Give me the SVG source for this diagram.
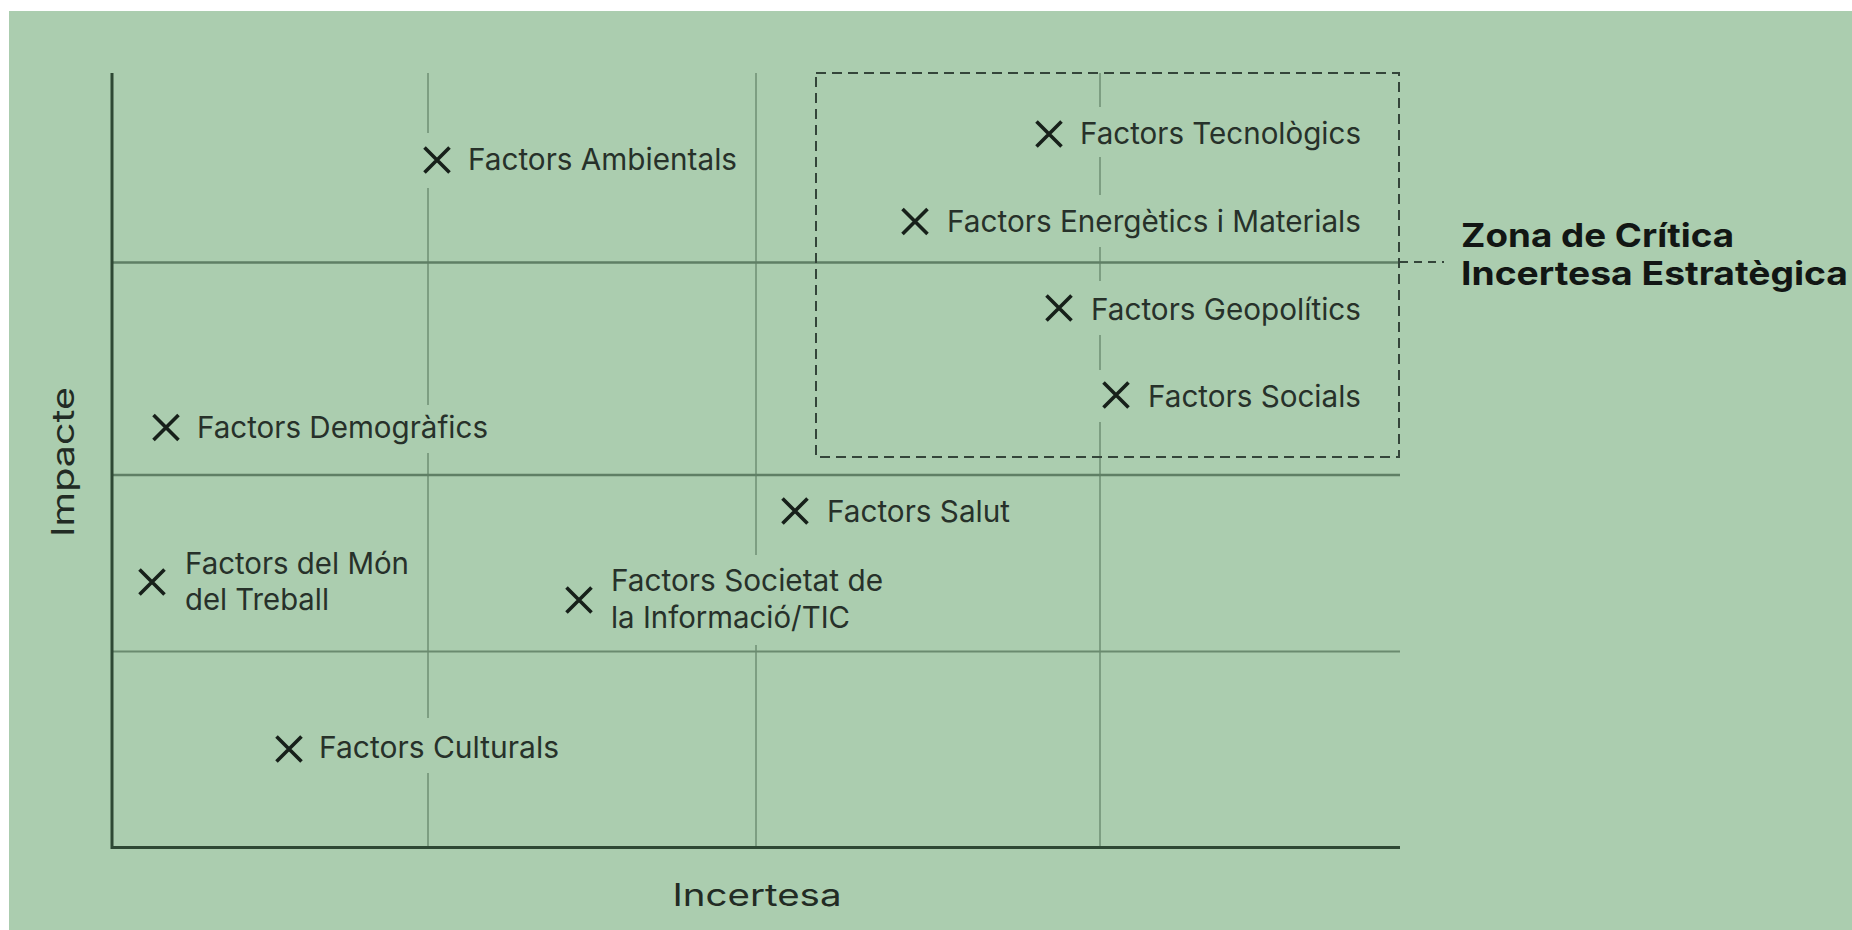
<svg xmlns="http://www.w3.org/2000/svg" xmlns:xlink="http://www.w3.org/1999/xlink" width="1852" height="930" viewBox="0 0 1852 930">
<style>
.page{fill:#ffffff}
.bg{fill:#abcdaf}
.ko{fill:#abcdaf}
.axis{stroke:#2e4834;stroke-width:3;fill:none}
.gh{stroke:#5f7f65;stroke-width:2.6;fill:none}
.gh2{stroke:#6a8a6f;stroke-width:2;fill:none}
.gv{stroke:#6f8f74;stroke-width:1.5;fill:none}
.zone{stroke:#34453a;stroke-width:2;stroke-dasharray:10 6;fill:none}
.conn{stroke:#34453a;stroke-width:2;stroke-dasharray:8 6;fill:none}
.mark{stroke:#17201a;stroke-width:3.6;fill:none}
.lbl{font-family:Inter,"Liberation Sans",sans-serif;font-size:30px;fill:#27312a}
.axl{font-family:Inter,"Liberation Sans",sans-serif;font-size:31px;fill:#222b24}
.zt{font-family:Inter,"Liberation Sans",sans-serif;font-size:33px;font-weight:700;fill:#121614}
</style>
<defs>
<path id="xm" class="mark" d="M-12.5,-12.5L12.5,12.5M12.5,-12.5L-12.5,12.5"/>
</defs>
<rect class="page" x="0" y="0" width="1852" height="930"/>
<rect class="bg" x="9" y="11" width="1843" height="919"/>

<g id="grid">
<path class="gv" d="M428,73V847M756,73V847M1100,73V847"/>
<path class="gh" d="M112,262.5H1400M112,475H1400"/>
<path class="gh2" d="M112,651.5H1400"/>
<path class="axis" d="M112,73V847.5H1400"/>
</g>

<g id="connectors">
<path class="conn" d="M1400,262H1444"/>
</g>

<g id="zona-critica">
<rect class="zone" x="816" y="73" width="583" height="384"/>
<text class="zt" x="1461" y="247" textLength="273" lengthAdjust="spacingAndGlyphs">Zona de Crítica</text>
<text class="zt" x="1461" y="285" textLength="387" lengthAdjust="spacingAndGlyphs">Incertesa Estratègica</text>
</g>

<g id="axis-impacte">
<text class="axl" transform="translate(74,462) rotate(-90)" text-anchor="middle" textLength="150" lengthAdjust="spacingAndGlyphs">Impacte</text>
</g>
<g id="axis-incertesa">
<text class="axl" x="757" y="906" text-anchor="middle" textLength="169" lengthAdjust="spacingAndGlyphs">Incertesa</text>
</g>

<g id="factors-ambientals">
<rect class="ko" x="418" y="133" width="330" height="55"/>
<use xlink:href="#xm" x="437" y="160"/>
<text class="lbl" x="468" y="170" textLength="269" lengthAdjust="spacingAndGlyphs">Factors Ambientals</text>
</g>

<g id="factors-tecnologics">
<rect class="ko" x="1027" y="107" width="345" height="50"/>
<use xlink:href="#xm" x="1049" y="134"/>
<text class="lbl" x="1080" y="144" textLength="281" lengthAdjust="spacingAndGlyphs">Factors Tecnològics</text>
</g>

<g id="factors-energetics">
<rect class="ko" x="893" y="195" width="478" height="52"/>
<use xlink:href="#xm" x="915" y="221.5"/>
<text class="lbl" x="947" y="232" textLength="414" lengthAdjust="spacingAndGlyphs">Factors Energètics i Materials</text>
</g>

<g id="factors-geopolitics">
<rect class="ko" x="1037" y="281" width="334" height="54"/>
<use xlink:href="#xm" x="1059" y="308"/>
<text class="lbl" x="1091" y="320" textLength="270" lengthAdjust="spacingAndGlyphs">Factors Geopolítics</text>
</g>

<g id="factors-socials">
<rect class="ko" x="1092" y="370" width="279" height="52"/>
<use xlink:href="#xm" x="1116" y="395"/>
<text class="lbl" x="1148" y="407" textLength="213" lengthAdjust="spacingAndGlyphs">Factors Socials</text>
</g>

<g id="factors-demografics">
<rect class="ko" x="145" y="405" width="352" height="48"/>
<use xlink:href="#xm" x="166" y="427.5"/>
<text class="lbl" x="197" y="438" textLength="291" lengthAdjust="spacingAndGlyphs">Factors Demogràfics</text>
</g>

<g id="factors-salut">
<use xlink:href="#xm" x="795" y="511"/>
<text class="lbl" x="827" y="522" textLength="183" lengthAdjust="spacingAndGlyphs">Factors Salut</text>
</g>

<g id="factors-mon-treball">
<use xlink:href="#xm" x="152" y="582"/>
<text class="lbl" x="185" y="574" textLength="224" lengthAdjust="spacingAndGlyphs">Factors del Món</text>
<text class="lbl" x="185" y="610" textLength="144" lengthAdjust="spacingAndGlyphs">del Treball</text>
</g>

<g id="factors-societat-informacio">
<rect class="ko" x="558" y="555" width="335" height="90"/>
<use xlink:href="#xm" x="579" y="600"/>
<text class="lbl" x="611" y="591" textLength="272" lengthAdjust="spacingAndGlyphs">Factors Societat de</text>
<text class="lbl" x="611" y="628" textLength="239" lengthAdjust="spacingAndGlyphs">la Informació/TIC</text>
</g>

<g id="factors-culturals">
<rect class="ko" x="268" y="718" width="300" height="55"/>
<use xlink:href="#xm" x="289" y="749"/>
<text class="lbl" x="319" y="758" textLength="240" lengthAdjust="spacingAndGlyphs">Factors Culturals</text>
</g>
</svg>
